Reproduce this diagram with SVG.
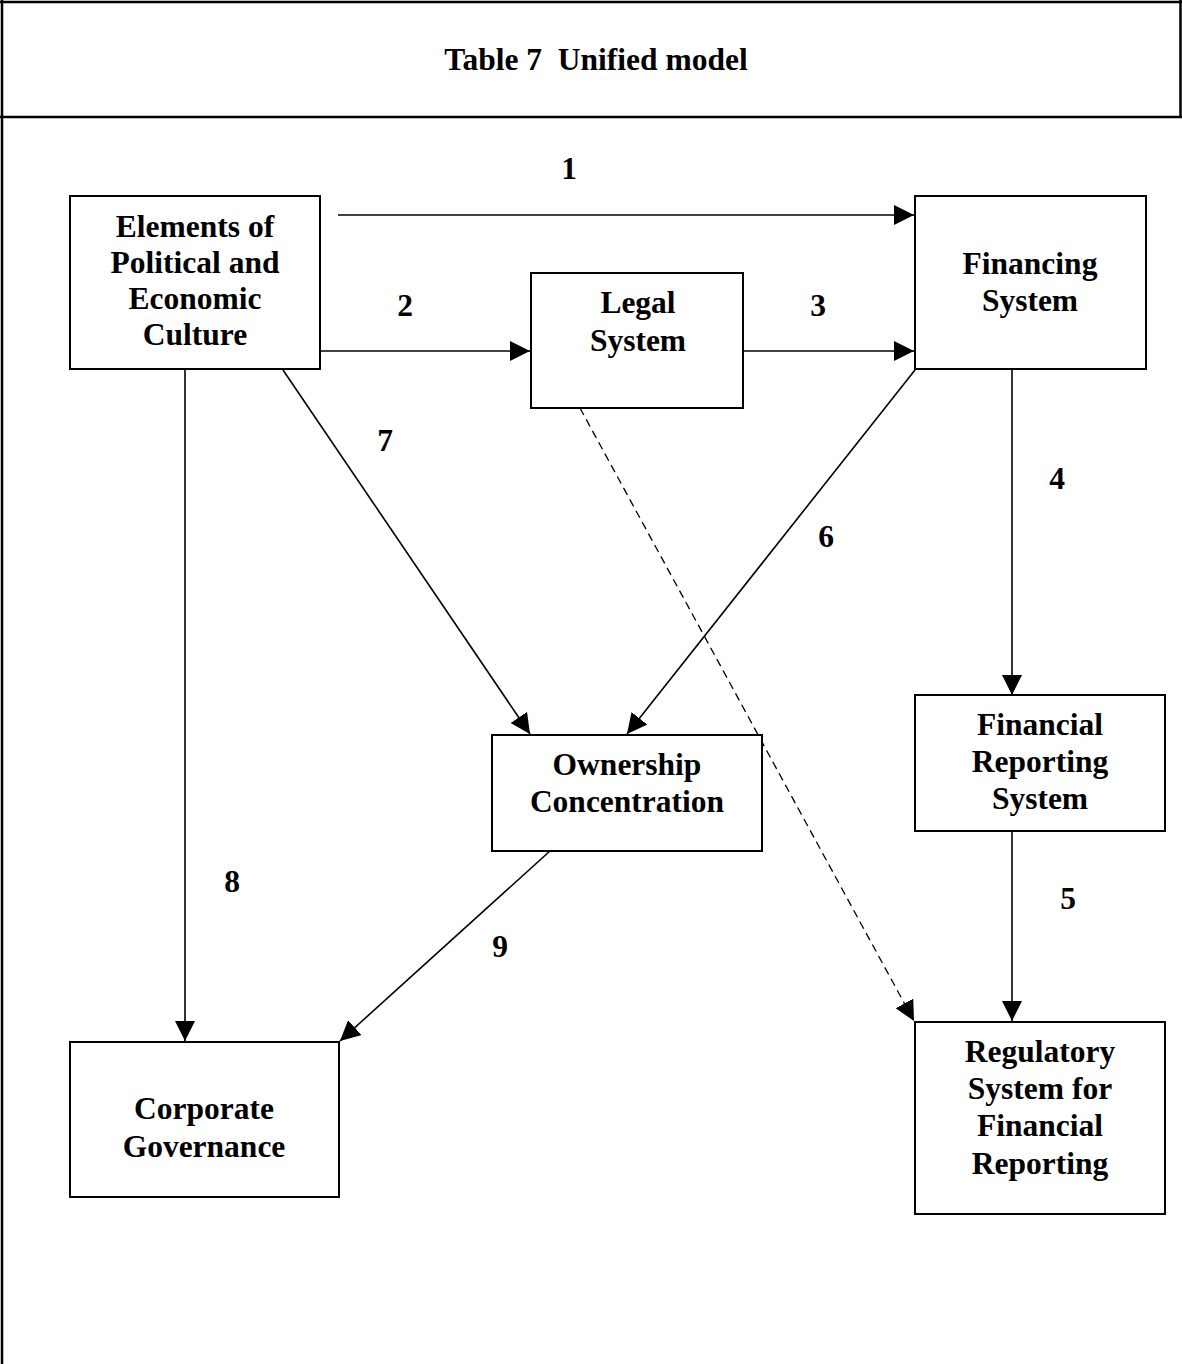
<svg xmlns="http://www.w3.org/2000/svg" width="1182" height="1364" viewBox="0 0 1182 1364">
<defs>
<marker id="ah" markerUnits="userSpaceOnUse" markerWidth="21" markerHeight="20" refX="20" refY="10" orient="auto">
<path d="M0,0 L20,10 L0,20 z" fill="#000"/>
</marker>
<style>
.frame{stroke:#000;stroke-width:2.5;fill:none}
.box{fill:#fff;stroke:#000;stroke-width:2}
.t{font-family:"Liberation Serif","Times New Roman",serif;font-weight:bold;font-size:31.5px;text-anchor:middle;fill:#000}
.c{stroke:#000;stroke-width:1.6;fill:none;marker-end:url(#ah)}
.d{stroke:#000;stroke-width:1.3;fill:none;stroke-dasharray:8,5;marker-end:url(#ah)}
</style>
</defs>
<rect width="1182" height="1364" fill="#fff"/>
<g id="frame">
<line class="frame" x1="0" y1="2" x2="1182" y2="2"/>
<line class="frame" x1="2" y1="0" x2="2" y2="1364"/>
<line class="frame" x1="0" y1="117" x2="1182" y2="117"/>
<line class="frame" x1="1180.5" y1="0" x2="1180.5" y2="117"/>
<text class="t" x="596" y="70" xml:space="preserve">Table 7  Unified model</text>
</g>
<g id="connectors">
<line class="c" x1="338" y1="215" x2="914" y2="215"/>
<line class="c" x1="321" y1="351" x2="530" y2="351"/>
<line class="c" x1="743" y1="351" x2="914" y2="351"/>
<line class="c" x1="1012" y1="370" x2="1012" y2="695"/>
<line class="c" x1="1012" y1="831" x2="1012" y2="1021"/>
<line class="c" x1="915" y1="370" x2="627" y2="734"/>
<line class="c" x1="283" y1="370" x2="530" y2="734"/>
<line class="c" x1="185" y1="370" x2="185" y2="1041"/>
<line class="c" x1="550" y1="851" x2="340" y2="1041"/>
<line class="d" x1="580" y1="408" x2="914" y2="1021"/>
<text class="t" x="569" y="179">1</text>
<text class="t" x="405" y="316">2</text>
<text class="t" x="818" y="316">3</text>
<text class="t" x="1057" y="489">4</text>
<text class="t" x="1068" y="909">5</text>
<text class="t" x="826" y="547">6</text>
<text class="t" x="385" y="451">7</text>
<text class="t" x="232" y="892">8</text>
<text class="t" x="500" y="957">9</text>
</g>
<g id="elements">
<rect class="box" x="70" y="196" width="250" height="173"/>
<text class="t" x="195" y="237">Elements of</text>
<text class="t" x="195" y="273">Political and</text>
<text class="t" x="195" y="309">Economic</text>
<text class="t" x="195" y="345">Culture</text>
</g>
<g id="legal">
<rect class="box" x="531" y="273" width="212" height="135"/>
<text class="t" x="638" y="313">Legal</text>
<text class="t" x="638" y="351">System</text>
</g>
<g id="financing">
<rect class="box" x="915" y="196" width="231" height="173"/>
<text class="t" x="1030" y="274">Financing</text>
<text class="t" x="1030" y="311">System</text>
</g>
<g id="ownership">
<rect class="box" x="492" y="735" width="270" height="116"/>
<text class="t" x="627" y="775">Ownership</text>
<text class="t" x="627" y="812">Concentration</text>
</g>
<g id="financial-reporting">
<rect class="box" x="915" y="695" width="250" height="136"/>
<text class="t" x="1040" y="735">Financial</text>
<text class="t" x="1040" y="772">Reporting</text>
<text class="t" x="1040" y="809">System</text>
</g>
<g id="corporate">
<rect class="box" x="70" y="1042" width="269" height="155"/>
<text class="t" x="204" y="1119">Corporate</text>
<text class="t" x="204" y="1157">Governance</text>
</g>
<g id="regulatory">
<rect class="box" x="915" y="1022" width="250" height="192"/>
<text class="t" x="1040" y="1062">Regulatory</text>
<text class="t" x="1040" y="1099">System for</text>
<text class="t" x="1040" y="1136">Financial</text>
<text class="t" x="1040" y="1174">Reporting</text>
</g>
</svg>
